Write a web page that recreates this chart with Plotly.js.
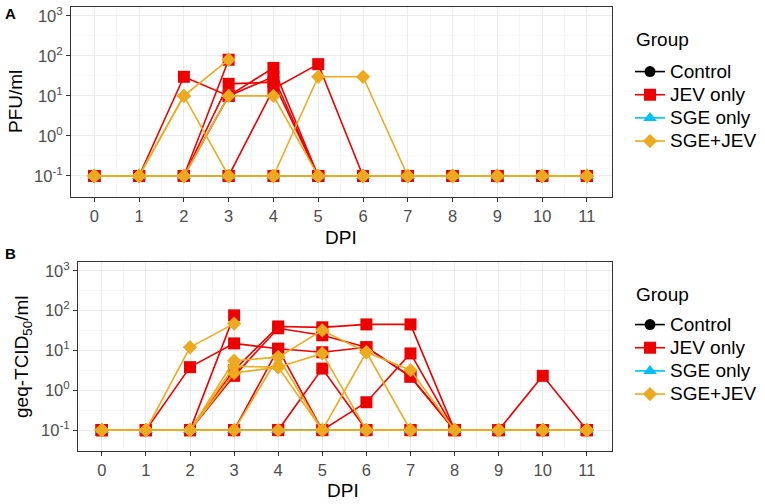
<!DOCTYPE html>
<html>
<head>
<meta charset="utf-8">
<script src="https://cdn.plot.ly/plotly-3.0.1.min.js"></script>
<style>
  html, body { margin: 0; padding: 0; background: #fff; }
  #chart { width: 765px; height: 504px; }
</style>
</head>
<body>
<div id="chart"></div>
<script>
const dpi = [0, 1, 2, 3, 4, 5, 6, 7, 8, 9, 10, 11];
const groupNames = ["Control", "JEV only", "SGE only", "SGE+JEV"];
const yTickVals = [0.1, 1, 10, 100, 1000];
const yTickText = ["10<sup>-1</sup>", "10<sup>0</sup>", "10<sup>1</sup>", "10<sup>2</sup>", "10<sup>3</sup>"];
const yMinorVals = [0.0316, 0.316, 3.16, 31.6, 316];

// panel A: PFU/ml, one row per mouse (short rows = no more samples)
const pfuControl = [
  [0.1, 0.1, 0.1, 0.1, 0.1, 0.1, 0.1, 0.1, 0.1, 0.1, 0.1, 0.1],
  [0.1, 0.1, 0.1, 0.1, 0.1, 0.1, 0.1, 0.1, 0.1, 0.1, 0.1, 0.1]
];
const pfuJev = [
  [0.1, 0.1, 30, 10, 50, 0.1, 0.1, 0.1, 0.1, 0.1, 0.1, 0.1],
  [0.1, 0.1, 0.1, 80],
  [0.1, 0.1, 0.1, 20, 22, 0.1, 0.1, 0.1, 0.1, 0.1, 0.1, 0.1],
  [0.1, 0.1, 0.1, 0.1, 15, 62, 0.1, 0.1, 0.1, 0.1, 0.1, 0.1],
  [0.1, 0.1, 0.1, 10, 30, 0.1, 0.1, 0.1, 0.1, 0.1, 0.1, 0.1],
  [0.1, 0.1, 0.1, 0.1, 0.1, 0.1, 0.1, 0.1, 0.1, 0.1, 0.1, 0.1]
];
const pfuSge = [
  [0.1, 0.1, 0.1, 0.1, 0.1, 0.1, 0.1, 0.1, 0.1, 0.1, 0.1, 0.1],
  [0.1, 0.1, 0.1, 0.1, 0.1, 0.1, 0.1, 0.1, 0.1, 0.1, 0.1, 0.1]
];
const pfuSgeJev = [
  [0.1, 0.1, 10, 80],
  [0.1, 0.1, 10, 0.1, 0.1, 0.1, 0.1, 0.1, 0.1, 0.1, 0.1, 0.1],
  [0.1, 0.1, 0.1, 10, 10, 0.1, 0.1, 0.1, 0.1, 0.1, 0.1, 0.1],
  [0.1, 0.1, 0.1, 0.1, 0.1, 30, 30, 0.1, 0.1, 0.1, 0.1, 0.1],
  [0.1, 0.1, 0.1, 0.1, 0.1, 0.1, 0.1, 0.1, 0.1, 0.1, 0.1, 0.1]
];

// panel B: geq-TCID50/ml
const tcidControl = [
  [0.1, 0.1, 0.1, 0.1, 0.1, 0.1, 0.1, 0.1, 0.1, 0.1, 0.1, 0.1],
  [0.1, 0.1, 0.1, 0.1, 0.1, 0.1, 0.1, 0.1, 0.1, 0.1, 0.1, 0.1]
];
const tcidJev = [
  [0.1, 0.1, 3.8, 15, 11, 9, 12, 2.2, 0.1, 0.1, 0.1, 0.1],
  [0.1, 0.1, 0.1, 76],
  [0.1, 0.1, 0.1, 3.2, 40, 38, 45, 45, 0.1, 0.1, 0.1, 0.1],
  [0.1, 0.1, 0.1, 2.3, 36, 24, 12, 2.2, 0.1, 0.1, 0.1, 0.1],
  [0.1, 0.1, 0.1, 0.1, 11, 0.1, 0.5, 8.4, 0.1, 0.1, 0.1, 0.1],
  [0.1, 0.1, 0.1, 0.1, 0.1, 3.5, 0.1, 0.1, 0.1, 0.1, 0.1, 0.1],
  [0.1, 0.1, 0.1, 0.1, 0.1, 0.1, 0.1, 0.1, 0.1, 0.1, 2.3, 0.1]
];
const tcidSge = [
  [0.1, 0.1, 0.1, 0.1, 0.1, 0.1, 0.1, 0.1, 0.1, 0.1, 0.1, 0.1],
  [0.1, 0.1, 0.1, 0.1, 0.1, 0.1, 0.1, 0.1, 0.1, 0.1, 0.1, 0.1]
];
const tcidSgeJev = [
  [0.1, 0.1, 12, 47],
  [0.1, 0.1, 0.1, 5.5, 6.8, 32, 9, 3.2, 0.1, 0.1, 0.1, 0.1],
  [0.1, 0.1, 0.1, 2.7, 3.8, 8.4, 0.1, 0.1, 0.1, 0.1, 0.1, 0.1],
  [0.1, 0.1, 0.1, 4, 3.8, 0.1, 0.1, 0.1, 0.1, 0.1, 0.1, 0.1],
  [0.1, 0.1, 0.1, 0.1, 6.8, 0.1, 9, 0.1, 0.1, 0.1, 0.1, 0.1],
  [0.1, 0.1, 0.1, 0.1, 0.1, 0.1, 0.1, 0.1, 0.1, 0.1, 0.1, 0.1]
];

const groupStyle = {
  "Control":  { color: "#000000", symbol: "circle", size: 11 },
  "JEV only": { color: "#EE0000", symbol: "square", size: 12 },
  "SGE only": { color: "#00BFFF", symbol: "triangle-up", size: 12 },
  "SGE+JEV":  { color: "#EDAA1F", symbol: "diamond", size: 11 }
};

const FONT = "Liberation Sans, Arial, sans-serif";
const traces = [];

function addPanel(groupData, xa, ya, legendId) {
  groupData.forEach((mice, g) => {
    const name = groupNames[g];
    const st = groupStyle[name];
    mice.forEach((vals, i) => {
      traces.push({
        x: dpi.slice(0, vals.length),
        y: vals,
        // legend spacing follows the legend font, label drawn a bit larger
        name: '<span style="font-size:19px">' + name + '</span>',
        legendgroup: name,
        legend: legendId,
        showlegend: i === 0,
        xaxis: xa,
        yaxis: ya,
        mode: "lines+markers",
        type: "scatter",
        line: { color: st.color, width: 1.6 },
        marker: { color: st.color, symbol: st.symbol, size: st.size, line: { width: 0 } },
        hoverinfo: "x+y"
      });
    });
  });
}

addPanel([pfuControl, pfuJev, pfuSge, pfuSgeJev], "x", "y", "legend");
addPanel([tcidControl, tcidJev, tcidSge, tcidSgeJev], "x2", "y2", "legend2");

function xAxis(domain, anchor, range) {
  return {
    domain: domain, anchor: anchor, range: range,
    tickmode: "array", tickvals: dpi,
    ticks: "outside", ticklen: 4, tickcolor: "#333333",
    showline: true, mirror: true, linecolor: "#333333", linewidth: 1,
    showgrid: true, gridcolor: "#EBEBEB", gridwidth: 1,
    minor: { tick0: 0.5, dtick: 1, showgrid: true, gridcolor: "#F4F4F4", gridwidth: 0.8, ticks: "" },
    zeroline: false,
    tickfont: { family: FONT, size: 16.5, color: "#4D4D4D" }
  };
}
function yAxis(domain, anchor) {
  return {
    domain: domain, anchor: anchor, type: "log", range: [-1.525, 3.22],
    tickmode: "array", tickvals: yTickVals, ticktext: yTickText,
    ticks: "outside", ticklen: 4, tickcolor: "#333333",
    showline: true, mirror: true, linecolor: "#333333", linewidth: 1,
    showgrid: true, gridcolor: "#EBEBEB", gridwidth: 1,
    minor: { tickmode: "array", tickvals: yMinorVals, showgrid: true, gridcolor: "#F4F4F4", gridwidth: 0.8, ticks: "" },
    zeroline: false,
    tickfont: { family: FONT, size: 16.5, color: "#4D4D4D" }
  };
}

function legendBox(topPx) {
  return {
    x: 630 / 765, xanchor: "left",
    y: 1 - topPx / 504, yanchor: "top",
    font: { family: FONT, size: 15.5, color: "#000" },
    bgcolor: "rgba(0,0,0,0)",
    traceorder: "grouped",
    tracegroupgap: 0
  };
}

function note(text, xPx, yPx, opts) {
  return Object.assign({
    text: text, xref: "paper", yref: "paper", x: xPx / 765, y: 1 - yPx / 504,
    xanchor: "center", yanchor: "middle", showarrow: false,
    font: { family: FONT, size: 19, color: "#000" }
  }, opts || {});
}

const layout = {
  width: 765, height: 504,
  margin: { l: 0, r: 0, t: 0, b: 0 },
  paper_bgcolor: "#ffffff",
  plot_bgcolor: "#ffffff",
  font: { family: FONT },
  xaxis: xAxis([71 / 765, 612 / 765], "y", [-0.52, 11.56]),
  yaxis: yAxis([1 - 197 / 504, 1 - 7 / 504], "x"),
  xaxis2: xAxis([78 / 765, 612 / 765], "y2", [-0.54, 11.57]),
  yaxis2: yAxis([1 - 451 / 504, 1 - 262 / 504], "x2"),
  legend: legendBox(55),
  legend2: legendBox(308),
  annotations: [
    note("<b>A</b>", 3, 13, { xanchor: "left", font: { family: FONT, size: 15, color: "#000" } }),
    note("<b>B</b>", 3, 253, { xanchor: "left", font: { family: FONT, size: 15, color: "#000" } }),
    note("PFU/ml", 16, 102, { textangle: -90 }),
    note("DPI", 341, 237),
    note("geq-TCID<sub>50</sub>/ml", 23, 357, { textangle: -90 }),
    note("DPI", 343, 490),
    // legend titles
    note("Group", 634, 40, { xanchor: "left" }),
    note("Group", 634, 294, { xanchor: "left" })
  ]
};

Plotly.newPlot("chart", traces, layout, { displayModeBar: false, staticPlot: true });
</script>
</body>
</html>
